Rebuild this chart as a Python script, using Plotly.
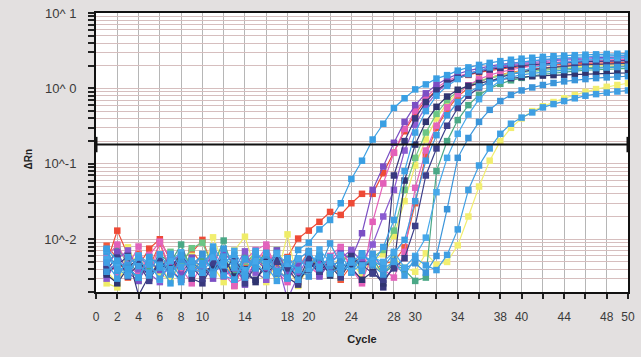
import plotly.graph_objects as go

cycles = list(range(1, 51))

x_tick_vals = list(range(0, 51, 2))
x_labeled = [0, 2, 4, 6, 8, 10, 14, 18, 20, 24, 28, 30, 34, 38, 40, 44, 48, 50]
y_decades = [0.01, 0.1, 1, 10]
y_decade_labels = ["10^-2", "10^-1", "10^ 0", "10^ 1"]
threshold = 0.18

s01 = [0.0075, 0.0052, 0.0040, 0.0031, 0.0058, 0.0044, 0.0026, 0.0061, 0.0035, 0.0048,
       0.0070, 0.0033, 0.0029, 0.0054, 0.0041, 0.0066, 0.0038, 0.0030, 0.0072, 0.0090,
       0.0135, 0.018, 0.030, 0.063, 0.11, 0.21, 0.34, 0.55, 0.74, 0.97,
       1.13, 1.35, 1.50, 1.72, 1.90, 2.05, 2.18, 2.30, 2.40, 2.48,
       2.55, 2.62, 2.68, 2.72, 2.76, 2.80, 2.83, 2.86, 2.88, 2.90]
s02 = [0.0045, 0.0068, 0.0036, 0.0028, 0.0050, 0.0039, 0.0062, 0.0034, 0.0057, 0.0042,
       0.0030, 0.0066, 0.0047, 0.0025, 0.0053, 0.0040, 0.0071, 0.0035, 0.0044, 0.0058,
       0.0032, 0.0049, 0.0065, 0.0055, 0.012, 0.045, 0.092, 0.19, 0.36, 0.60,
       0.86, 1.12, 1.35, 1.55, 1.72, 1.86, 1.98, 2.08, 2.17, 2.25,
       2.32, 2.38, 2.43, 2.47, 2.50, 2.53, 2.56, 2.58, 2.60, 2.62]
s03 = [0.0058, 0.0085, 0.0047, 0.0033, 0.0062, 0.0091, 0.0040, 0.0029, 0.0052, 0.0037,
       0.0068, 0.0045, 0.0026, 0.0031, 0.0049, 0.0078, 0.0036, 0.0027, 0.0055, 0.0043,
       0.0034, 0.0060, 0.0079, 0.0040, 0.0026, 0.017, 0.055, 0.14, 0.29, 0.50,
       0.76, 1.02, 1.25, 1.45, 1.60, 1.73, 1.84, 1.93, 2.01, 2.08,
       2.14, 2.19, 2.24, 2.28, 2.31, 2.34, 2.37, 2.39, 2.41, 2.43]
s04 = [0.0036, 0.0045, 0.0060, 0.0018, 0.0033, 0.0050, 0.0041, 0.0064, 0.0030, 0.0026,
       0.0047, 0.0039, 0.0055, 0.0034, 0.0029, 0.0044, 0.0058, 0.0031, 0.0025, 0.0048,
       0.0037, 0.0052, 0.0033, 0.0060, 0.0045, 0.0048, 0.0023, 0.070, 0.20, 0.40,
       0.66, 0.94, 1.18, 1.38, 1.54, 1.67, 1.78, 1.87, 1.95, 2.01,
       2.07, 2.12, 2.16, 2.20, 2.23, 2.26, 2.28, 2.30, 2.32, 2.33]
s05 = [0.0048, 0.013, 0.0062, 0.0044, 0.0075, 0.0100, 0.0052, 0.0038, 0.0066, 0.0098,
       0.0042, 0.0055, 0.0027, 0.0049, 0.0061, 0.0039, 0.0046, 0.0058, 0.0102, 0.013,
       0.017, 0.023, 0.021, 0.030, 0.040, 0.040, 0.075, 0.14, 0.27, 0.46,
       0.70, 0.95, 1.17, 1.36, 1.51, 1.63, 1.73, 1.81, 1.88, 1.94,
       1.99, 2.03, 2.07, 2.10, 2.13, 2.15, 2.17, 2.19, 2.20, 2.21]
s06 = [0.0030, 0.0054, 0.0071, 0.0040, 0.0035, 0.0027, 0.0050, 0.0063, 0.0038, 0.0045,
       0.0058, 0.0032, 0.0041, 0.0069, 0.0036, 0.0029, 0.0052, 0.0016, 0.0033, 0.0061,
       0.0047, 0.0039, 0.0056, 0.0072, 0.0050, 0.0085, 0.020, 0.045, 0.15, 0.33,
       0.58, 0.88, 1.15, 1.38, 1.57, 1.73, 1.86, 1.97, 2.07, 2.15,
       2.22, 2.28, 2.33, 2.38, 2.42, 2.45, 2.48, 2.51, 2.53, 2.55]
s07 = [0.0072, 0.0040, 0.0033, 0.0057, 0.0046, 0.0030, 0.0064, 0.0043, 0.0052, 0.0036,
       0.0080, 0.0049, 0.0062, 0.0034, 0.0070, 0.0045, 0.0028, 0.0056, 0.0039, 0.0067,
       0.0043, 0.0058, 0.0036, 0.0049, 0.0064, 0.0048, 0.0079, 0.018, 0.080, 0.26,
       0.50, 0.80, 1.08, 1.33, 1.55, 1.74, 1.90, 2.03, 2.14, 2.24,
       2.33, 2.41, 2.48, 2.54, 2.59, 2.63, 2.67, 2.70, 2.73, 2.75]
s08 = [0.0034, 0.0026, 0.0042, 0.0055, 0.0031, 0.0047, 0.0038, 0.0029, 0.0051, 0.0036,
       0.0044, 0.0058, 0.0032, 0.0040, 0.0027, 0.0053, 0.0035, 0.0046, 0.0030, 0.0039,
       0.0057, 0.0033, 0.0048, 0.0041, 0.0029, 0.0037, 0.0026, 0.0045, 0.060, 0.18,
       0.36, 0.57, 0.78, 0.96, 1.08, 1.18, 1.26, 1.32, 1.37, 1.41,
       1.45, 1.48, 1.50, 1.52, 1.54, 1.56, 1.57, 1.58, 1.59, 1.60]
s09 = [0.0060, 0.0082, 0.0045, 0.0028, 0.0053, 0.0039, 0.0068, 0.0047, 0.0076, 0.0090,
       0.0042, 0.0058, 0.0035, 0.0050, 0.0064, 0.0041, 0.0072, 0.0037, 0.0055, 0.0046,
       0.0062, 0.0033, 0.0051, 0.0067, 0.0040, 0.0058, 0.0072, 0.013, 0.045, 0.12,
       0.26, 0.46, 0.70, 0.92, 1.10, 1.25, 1.37, 1.47, 1.56, 1.63,
       1.69, 1.74, 1.79, 1.83, 1.86, 1.89, 1.92, 1.94, 1.96, 1.98]
s10 = [0.0026, 0.0023, 0.0078, 0.0041, 0.0052, 0.0034, 0.0029, 0.0047, 0.0060, 0.0035,
       0.0044, 0.0027, 0.0071, 0.0108, 0.0039, 0.0050, 0.0031, 0.0116, 0.0025, 0.0043,
       0.0055, 0.0036, 0.0062, 0.0048, 0.0033, 0.0052, 0.0063, 0.011, 0.032, 0.095,
       0.21, 0.40, 0.64, 0.88, 1.08, 1.25, 1.39, 1.50, 1.60, 1.68,
       1.75, 1.81, 1.86, 1.91, 1.95, 1.98, 2.01, 2.04, 2.06, 2.08]
s11 = [0.0050, 0.0036, 0.0044, 0.0080, 0.0030, 0.0093, 0.0057, 0.0041, 0.0026, 0.0048,
       0.0066, 0.0035, 0.0024, 0.0053, 0.0072, 0.0085, 0.0039, 0.0029, 0.0046, 0.0060,
       0.0034, 0.0051, 0.0076, 0.0043, 0.0028, 0.0062, 0.0040, 0.0031, 0.0068, 0.048,
       0.15, 0.32, 0.56, 0.84, 1.10, 1.32, 1.50, 1.65, 1.78, 1.88,
       1.97, 2.04, 2.10, 2.16, 2.20, 2.24, 2.27, 2.30, 2.32, 2.34]
s12 = [0.0068, 0.0038, 0.0046, 0.0059, 0.0033, 0.0042, 0.0052, 0.0030, 0.0046, 0.0062,
       0.0037, 0.0075, 0.0049, 0.0034, 0.0058, 0.0043, 0.0066, 0.0031, 0.0054, 0.0070,
       0.0041, 0.0088, 0.0047, 0.0036, 0.0060, 0.0052, 0.0043, 0.0065, 0.0098, 0.032,
       0.11, 0.24, 0.44, 0.66, 0.88, 1.06, 1.20, 1.32, 1.42, 1.51,
       1.58, 1.64, 1.70, 1.75, 1.79, 1.83, 1.86, 1.89, 1.92, 1.94]
s13 = [0.0040, 0.0057, 0.0032, 0.0047, 0.0028, 0.0052, 0.0036, 0.0060, 0.0043, 0.0030,
       0.0049, 0.0038, 0.0055, 0.0026, 0.0045, 0.0034, 0.0050, 0.0041, 0.0027, 0.0058,
       0.0037, 0.0044, 0.0031, 0.0053, 0.0046, 0.0035, 0.0029, 0.0041, 0.0056, 0.015,
       0.070, 0.16, 0.32, 0.55, 0.80, 1.03, 1.23, 1.40, 1.54, 1.66,
       1.76, 1.84, 1.91, 1.97, 2.02, 2.06, 2.09, 2.11, 2.13, 2.15]
s14 = [0.0046, 0.0071, 0.0055, 0.0033, 0.0041, 0.0062, 0.0049, 0.0085, 0.0038, 0.0052,
       0.0044, 0.0096, 0.0035, 0.0058, 0.0047, 0.0066, 0.0040, 0.0030, 0.0053, 0.0043,
       0.0060, 0.0037, 0.0049, 0.0064, 0.0040, 0.0055, 0.0034, 0.0047, 0.0039, 0.0028,
       0.0031, 0.080, 0.20, 0.38, 0.60, 0.82, 1.00, 1.15, 1.28, 1.38,
       1.47, 1.54, 1.60, 1.65, 1.70, 1.74, 1.77, 1.80, 1.82, 1.84]
s15 = [0.0055, 0.0043, 0.0035, 0.0061, 0.0048, 0.0029, 0.0052, 0.0067, 0.0041, 0.0036,
       0.0058, 0.0045, 0.0070, 0.0039, 0.0051, 0.0033, 0.0064, 0.0047, 0.0056, 0.0040,
       0.0073, 0.0049, 0.0062, 0.0038, 0.0045, 0.0057, 0.0050, 0.0068, 0.0042, 0.0060,
       0.0105, 0.042, 0.12, 0.25, 0.45, 0.72, 1.00, 1.27, 1.50, 1.70,
       1.87, 2.00, 2.12, 2.22, 2.30, 2.37, 2.43, 2.48, 2.52, 2.56]
s16 = [0.0037, 0.0050, 0.0042, 0.0031, 0.0058, 0.0046, 0.0034, 0.0053, 0.0040, 0.0064,
       0.0036, 0.0047, 0.0029, 0.0055, 0.0043, 0.0061, 0.0035, 0.0049, 0.0039, 0.0032,
       0.0057, 0.0044, 0.0051, 0.0038, 0.0065, 0.0045, 0.0034, 0.0052, 0.0041, 0.0048,
       0.0036, 0.0060, 0.025, 0.12, 0.22, 0.36, 0.52, 0.68, 0.82, 0.94,
       1.03, 1.11, 1.18, 1.24, 1.29, 1.33, 1.37, 1.40, 1.43, 1.45]
s17 = [0.0049, 0.0030, 0.0058, 0.0044, 0.0036, 0.0063, 0.0040, 0.0027, 0.0051, 0.0045,
       0.0034, 0.0059, 0.0042, 0.0031, 0.0066, 0.0048, 0.0037, 0.0054, 0.0029, 0.0046,
       0.0060, 0.0035, 0.0043, 0.0052, 0.0038, 0.0064, 0.0041, 0.0050, 0.0033, 0.0057,
       0.0045, 0.0039, 0.0062, 0.0135, 0.045, 0.095, 0.16, 0.25, 0.34, 0.41,
       0.48, 0.56, 0.62, 0.68, 0.74, 0.80, 0.84, 0.88, 0.91, 0.94]
s18 = [0.0038, 0.0026, 0.0049, 0.0060, 0.0033, 0.0044, 0.0028, 0.0052, 0.0041, 0.0035,
       0.0106, 0.0047, 0.0030, 0.0057, 0.0039, 0.0027, 0.0050, 0.0043, 0.0024, 0.0062,
       0.0036, 0.0045, 0.0031, 0.0054, 0.0040, 0.0048, 0.0034, 0.0058, 0.0042, 0.0037,
       0.0065, 0.0046, 0.0050, 0.0083, 0.020, 0.050, 0.11, 0.20, 0.30, 0.40,
       0.50, 0.58, 0.66, 0.74, 0.82, 0.90, 0.98, 1.05, 1.11, 1.17]
s19 = [0.0082, 0.0056, 0.0031, 0.0064, 0.0042, 0.0088, 0.0037, 0.0052, 0.0070, 0.0046,
       0.0035, 0.0060, 0.0024, 0.0049, 0.0039, 0.0076, 0.0033, 0.0057, 0.0043, 0.0068,
       0.0038, 0.0050, 0.0029, 0.0045, 0.0061, 0.0036, 0.0048, 0.0050, 0.0078, 0.030,
       0.13, 0.30, 0.52, 0.78, 1.02, 1.22, 1.38, 1.52, 1.63, 1.72,
       1.80, 1.87, 1.93, 1.98, 2.02, 2.06, 2.09, 2.12, 2.14, 2.16]

series = [
    (s05, "#ee4a36"), (s19, "#f05a3c"), (s10, "#efec68"), (s18, "#f2ee70"),
    (s09, "#6cc585"), (s14, "#4aa886"), (s03, "#e35fb9"), (s11, "#e264bc"),
    (s02, "#7b4fc4"), (s06, "#8a5ad0"), (s04, "#38387e"), (s08, "#2f3470"),
    (s13, "#3d3f8a"), (s12, "#3c9ce0"), (s16, "#3b95da"), (s15, "#46a8ea"),
    (s17, "#3f9fe3"), (s07, "#3fa2e6"), (s01, "#3a9fe3"),
]

for vals, _ in series:
    assert len(vals) == 50, len(vals)

fig = go.Figure()
for vals, col in series:
    fig.add_trace(go.Scatter(
        x=cycles, y=vals, mode="lines+markers",
        line=dict(color=col, width=1.2),
        marker=dict(symbol="square", size=6.5, color=col, line=dict(width=0)),
        showlegend=False, hoverinfo="skip"))

fig.add_trace(go.Scatter(
    x=[0, 50], y=[threshold, threshold], mode="lines+markers",
    line=dict(color="#111111", width=2),
    marker=dict(symbol="line-ns-open", size=11, color="#111111", line=dict(width=3, color="#111111")),
    showlegend=False, hoverinfo="skip", cliponaxis=False))

# y grid: all 1-9 multiples per decade
y_grid = []
y_text = []
for d in [0.001, 0.01, 0.1, 1]:
    for m in range(1, 10):
        v = round(m * d, 6)
        if v < 0.002:
            continue
        y_grid.append(v)
        y_text.append(y_decade_labels[y_decades.index(v)] if v in y_decades else "")
y_grid.append(10)
y_text.append(y_decade_labels[3])

x_text = [str(v) if v in x_labeled else "" for v in x_tick_vals]

fig.update_layout(
    width=641, height=357,
    margin=dict(l=96, r=6, t=11, b=65),
    paper_bgcolor="#e3e0e0", plot_bgcolor="#ffffff",
    font=dict(family="Liberation Sans, Arial, sans-serif", color="#3a3a3a"),
    xaxis=dict(
        range=[0, 50], tickvals=x_tick_vals, ticktext=x_text,
        ticks="outside", ticklen=5, tickwidth=1.5, tickcolor="#222",
        showgrid=True, gridcolor="#b6b6b6", gridwidth=1,
        showline=True, linecolor="#111", linewidth=2, mirror=True,
        tickfont=dict(size=12, color="#3a3a3a"), ticklabelstandoff=8,
        zeroline=False,
        title=dict(text="<b>Cycle</b>", font=dict(size=11, color="#222"), standoff=12),
    ),
    yaxis=dict(
        type="log", range=[-2.70, 1.0], tickvals=y_grid, ticktext=y_text,
        ticks="outside", ticklen=6, tickwidth=1.5, tickcolor="#222",
        showgrid=True, gridcolor="#d6bebe", gridwidth=1,
        showline=True, linecolor="#111", linewidth=2, mirror=True,
        tickfont=dict(size=13, color="#3a3a3a"), ticklabelstandoff=9,
        zeroline=False,
    ),
    annotations=[dict(
        text="<b>ΔRn</b>", xref="paper", yref="paper",
        x=-0.141, y=0.477, showarrow=False, textangle=-90,
        font=dict(size=10, color="#222"))],
)

fig.write_html(
    "out.html",
    config={"displayModeBar": False},
    post_script="document.body.style.margin='0';document.body.style.background='#e3e0e0';",
)
